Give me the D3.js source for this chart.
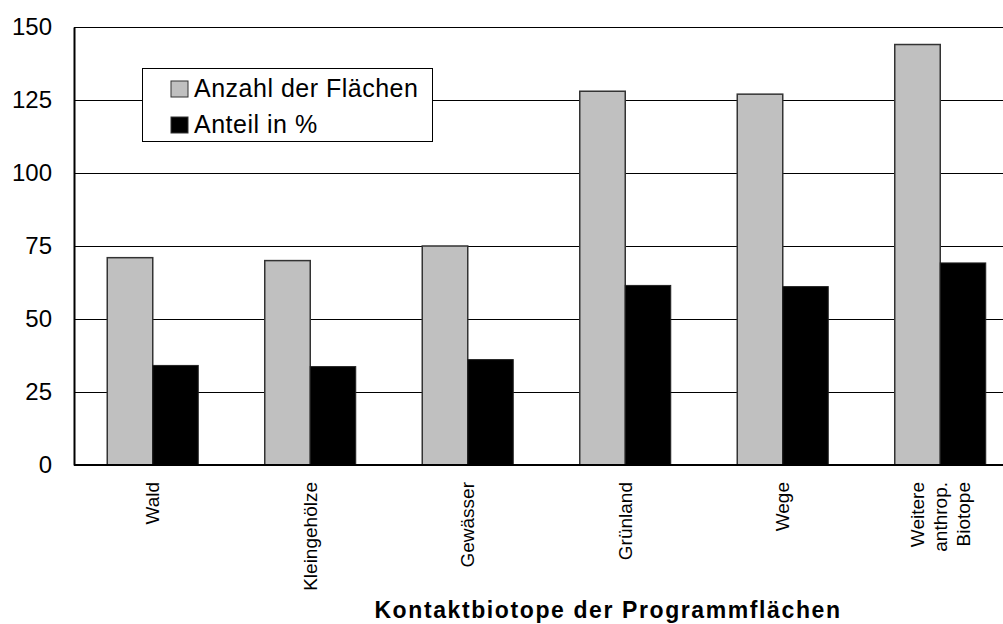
<!DOCTYPE html>
<html><head><meta charset="utf-8">
<script src="https://cdn.jsdelivr.net/npm/d3@7"></script>
<style>body{margin:0;background:#fff;overflow:hidden}svg{display:block;font-family:"Liberation Sans",Arial,sans-serif}</style>
</head><body>
<script>
const categories = [["Wald"],["Kleingehölze"],["Gewässer"],["Grünland"],["Wege"],["Weitere","anthrop.","Biotope"]];
const anzahl = [71, 70, 75, 128, 127, 144];
const anteil = [34.1, 33.7, 36.1, 61.5, 61.1, 69.2];
const seriesNames = ["Anzahl der Flächen", "Anteil in %"];
const yTicks = [0, 25, 50, 75, 100, 125, 150];
const xTitle = "Kontaktbiotope der Programmflächen";

const W = 1003, H = 624;
const m = {left: 74, right: 1019, top: 27, bottom: 465};
const svg = d3.select("body").append("svg").attr("width", W).attr("height", H);

const x = d3.scaleBand().domain(d3.range(categories.length)).range([m.left, m.right]).paddingInner(0).paddingOuter(0);
const y = d3.scaleLinear().domain([0, 150]).range([m.bottom, m.top]);
const barW = 45.5;

// gridlines
svg.append("g").selectAll("line").data(yTicks.filter(d => d > 0)).join("line")
  .attr("x1", m.left).attr("x2", m.right)
  .attr("y1", d => y(d)).attr("y2", d => y(d))
  .attr("stroke", "#000").attr("stroke-width", 1).attr("shape-rendering", "crispEdges");

// y axis
const yAxis = d3.axisLeft(y).tickValues(yTicks).tickSize(0).tickPadding(22);
const ya = svg.append("g").attr("transform", `translate(${m.left},0)`).call(yAxis)
  .attr("font-family", "Liberation Sans, Arial, sans-serif");
ya.select(".domain").attr("stroke", "#000").attr("stroke-width", 2);
ya.selectAll("text").attr("font-size", 24).attr("fill", "#000");

// bars
const cx = i => x(i) + x.bandwidth() / 2;
svg.append("g").selectAll("rect").data(anzahl).join("rect")
  .attr("x", (d, i) => cx(i) - barW).attr("width", barW)
  .attr("y", d => y(d)).attr("height", d => y(0) - y(d))
  .attr("fill", "#c0c0c0").attr("stroke", "#333").attr("stroke-width", 1.5);
svg.append("g").selectAll("rect").data(anteil).join("rect")
  .attr("x", (d, i) => cx(i)).attr("width", barW)
  .attr("y", d => y(d)).attr("height", d => y(0) - y(d))
  .attr("fill", "#000").attr("stroke", "#222").attr("stroke-width", 1);

// x axis line
svg.append("line").attr("x1", m.left).attr("x2", m.right).attr("y1", y(0)).attr("y2", y(0))
  .attr("stroke", "#000").attr("stroke-width", 2);

// x labels
const xl = svg.append("g").selectAll("g").data(categories).join("g")
  .attr("transform", (d, i) => `translate(${cx(i)},482) rotate(-90)`);
xl.each(function(lines) {
  const g = d3.select(this);
  const n = lines.length;
  lines.forEach((t, j) => {
    g.append("text").attr("x", 0).attr("y", (j - (n - 1) / 2) * 23)
      .attr("dy", "0.35em").attr("text-anchor", "end")
      .attr("font-size", 19).attr("fill", "#000").text(t);
  });
});

// x title
svg.append("text").attr("x", 608).attr("y", 618).attr("text-anchor", "middle")
  .attr("font-size", 23).attr("font-weight", "bold").attr("letter-spacing", 1.6)
  .attr("fill", "#000").text(xTitle);

// legend
const lg = svg.append("g");
lg.append("rect").attr("x", 142.5).attr("y", 68.5).attr("width", 290).attr("height", 73)
  .attr("fill", "#fff").attr("stroke", "#000").attr("stroke-width", 1);
const colors = ["#c0c0c0", "#000"];
seriesNames.forEach((s, i) => {
  const base = 97 + i * 36;
  lg.append("rect").attr("x", 171).attr("y", base - 16).attr("width", 17).attr("height", 16)
    .attr("fill", colors[i]).attr("stroke", "#333").attr("stroke-width", 1);
  lg.append("text").attr("x", 194).attr("y", base).attr("letter-spacing", 0.5)
    .attr("font-size", 25).attr("fill", "#000").text(s);
});
</script>
</body></html>
